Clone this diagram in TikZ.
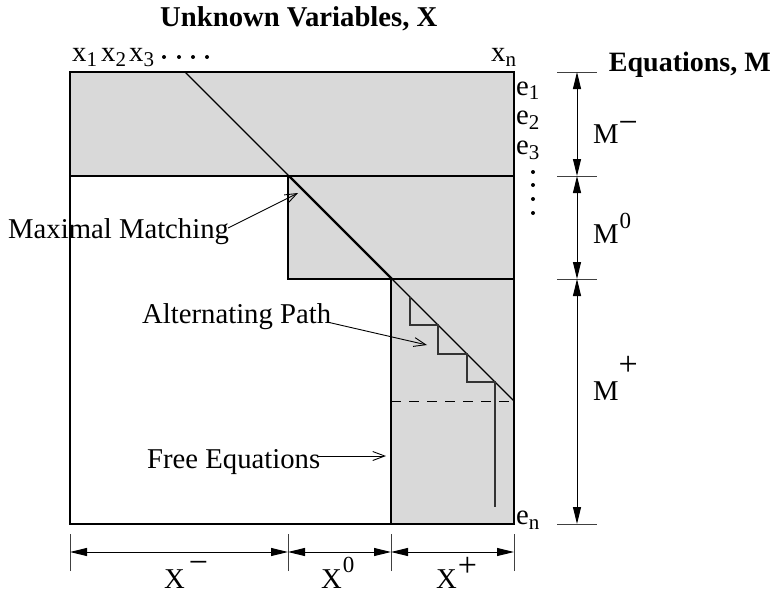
\documentclass[tikz,border=0pt]{standalone}
\usepackage{fontspec}
\setmainfont{Liberation Serif}
\usetikzlibrary{arrows.meta}
\definecolor{fillgray}{RGB}{217,217,217}
\newcommand\subs[1]{\raisebox{-5pt}{\fontsize{21}{21}\selectfont #1}}
\newcommand\supr[3]{\raisebox{#1}{\fontsize{#2}{#2}\selectfont #3}}
\begin{document}
\begin{tikzpicture}[x=1pt,y=-1pt,
  txt/.style={inner sep=0pt, anchor=base west, font=\fontsize{28.7}{30}\selectfont},
  bold/.style={inner sep=0pt, anchor=base west, font=\fontsize{28.7}{30}\selectfont\bfseries},
  box/.style={line width=1.2pt},
  dimline/.style={line width=1pt, {Triangle[length=17pt,width=8pt]}-{Triangle[length=17pt,width=8pt]}},
  tickline/.style={line width=0.9pt, black!75},
  lbl/.style={line width=0.9pt, -{Straight Barb[length=12pt,width=9pt]}},
  dotmark/.style={circle, fill=black, inner sep=0pt, minimum size=4pt}]
\useasboundingbox (0,0) rectangle (773,594);

% gray regions
\fill[fillgray] (70,72) rectangle (514,176);
\fill[fillgray] (288,176) rectangle (514,279);
\fill[fillgray] (391,279) rectangle (514,524);

% frame and partitions
\draw[box] (70,72) rectangle (514,524);
\draw[box] (70,176) -- (514,176);
\draw[box] (288,176) -- (288,279) -- (514,279);
\draw[box] (391,279) -- (391,524);

% diagonal
\coordinate (d0) at (185,72);
\coordinate (d1) at (289,176);
\coordinate (d2) at (392,279);
\coordinate (d3) at (514,401);
\draw[line width=1.1pt] (d0) -- (d1);
\draw[line width=2.2pt] (d1) -- (d2);
\draw[line width=1.3pt] (d2) -- (d3);

% dashed line
\coordinate (dl0) at (391,401);
\draw[line width=1pt, dash pattern=on 10pt off 8pt] (dl0) -- (d3);

% alternating path staircase
\coordinate (s0) at (410,297);
\coordinate (s1) at (495,507);
\draw[line width=1.1pt, black!80] (s0) -- (410,325) -- (438,325) -- (438,354) -- (467,354) -- (467,382) -- (495,382) -- (s1);

% top labels
\node[bold] (title) at (160,27) {Unknown Variables, X};
\node[bold, anchor=base east, font=\fontsize{28}{30}\selectfont\bfseries] (eqs) at (771,71) {Equations, M};
\node[txt] (x1) at (72,62) {x\subs{1}};
\node[txt] (x2) at (101,62) {x\subs{2}};
\node[txt] (x3) at (129,62) {x\subs{3}};
\node[dotmark] (xd1) at (164,57) {};
\node[dotmark] (xd2) at (179,57) {};
\node[dotmark] (xd3) at (193,57) {};
\node[dotmark] (xd4) at (207,57) {};
\node[txt] (xn) at (491,62) {x\subs{n}};

% equation labels
\node[txt] (e1) at (516,95) {e\subs{1}};
\node[txt] (e2) at (516,124) {e\subs{2}};
\node[txt] (e3) at (516,154) {e\subs{3}};
\node[dotmark] (ed1) at (533,172) {};
\node[dotmark] (ed2) at (533,185) {};
\node[dotmark] (ed3) at (533,199) {};
\node[dotmark] (ed4) at (533,213) {};
\node[txt] (en) at (516,524) {e\subs{n}};

% right dimensions
\coordinate (r0) at (577,72);
\coordinate (r1) at (577,176);
\coordinate (r2) at (577,279);
\coordinate (r3) at (577,524);
\foreach \c in {r0,r1,r2,r3} \draw[tickline] ([xshift=-20pt]\c) -- ([xshift=20pt]\c);
\draw[dimline] (r0) -- (r1);
\draw[dimline] (r1) -- (r2);
\draw[dimline] (r2) -- (r3);
\node[txt] (mminus) at (593,143) {M\supr{9.5pt}{34}{−}};
\node[txt] (mzero) at (593,243) {M\hspace{1pt}\supr{15pt}{23}{0}};
\node[txt] (mplus) at (593,400) {M\supr{24.5pt}{34}{+}};

% bottom dimensions
\coordinate (b0) at (70,552);
\coordinate (b1) at (288,552);
\coordinate (b2) at (391,552);
\coordinate (b3) at (514,552);
\foreach \c in {b0,b1,b2,b3} \draw[tickline] ([yshift=-19pt]\c) -- ([yshift=18pt]\c);
\draw[dimline] (b0) -- (b1);
\draw[dimline] (b1) -- (b2);
\draw[dimline] (b2) -- (b3);
\node[txt] (xminus) at (164,588) {X\hspace{4pt}\supr{14.5pt}{34}{−}};
\node[txt] (xzero) at (321,588) {X\hspace{1pt}\supr{16pt}{23}{0}};
\node[txt] (xplus) at (436,588) {X\hspace{1pt}\supr{11.5pt}{34}{+}};

% annotations
\node[txt] (mm) at (8,238) {Maximal Matching};
\coordinate (mmstart) at (228,228);
\coordinate (mmtip) at (298,193);
\draw[lbl] (mmstart) -- (mmtip);

\node[txt] (ap) at (142,323) {Alternating Path};
\coordinate (apstart) at (327,322);
\coordinate (aptip) at (427,345);
\draw[lbl] (apstart) -- (aptip);

\node[txt] (fe) at (147,468) {Free Equations};
\coordinate (festart) at (318,456);
\coordinate (fetip) at (386,456);
\draw[lbl] (festart) -- (fetip);
\end{tikzpicture}
\end{document}
